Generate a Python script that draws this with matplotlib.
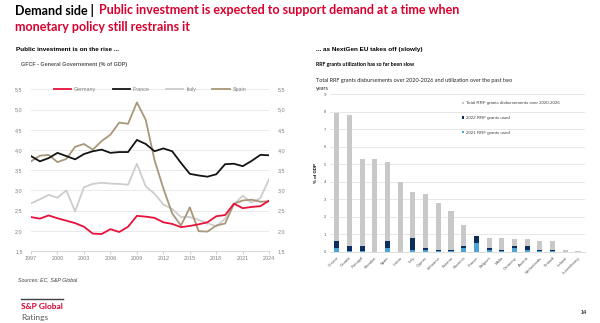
import numpy as np
import matplotlib.pyplot as plt
from matplotlib.ticker import FuncFormatter

# left chart: GFCF general government, % of GDP
years = np.arange(1997, 2025)
germany = [2.34, 2.30, 2.38, 2.31, 2.25, 2.19, 2.10, 1.93, 1.92, 2.04, 1.97, 2.10,
           2.37, 2.35, 2.32, 2.21, 2.17, 2.09, 2.12, 2.16, 2.21, 2.36, 2.39, 2.67,
           2.56, 2.59, 2.61, 2.75]
france = [3.85, 3.72, 3.80, 3.93, 3.85, 3.77, 3.90, 3.97, 4.01, 3.93, 3.95, 3.95,
          4.25, 4.15, 3.97, 4.04, 3.97, 3.68, 3.41, 3.37, 3.34, 3.40, 3.65, 3.66,
          3.60, 3.73, 3.88, 3.87]
italy = [2.68, 2.78, 2.89, 2.82, 3.00, 2.48, 3.08, 3.16, 3.19, 3.17, 3.16, 3.14,
         3.66, 3.10, 2.92, 2.65, 2.54, 2.34, 2.34, 2.27, 2.19, 2.11, 2.30, 2.65,
         2.87, 2.70, 2.81, 3.29]
spain = [3.72, 3.86, 3.88, 3.70, 3.78, 4.08, 4.15, 4.01, 4.22, 4.38, 4.68, 4.65,
         5.18, 4.75, 3.75, 3.05, 2.43, 2.13, 2.58, 1.99, 1.98, 2.13, 2.18, 2.67,
         2.75, 2.77, 2.72, 2.73]

# right chart: RRF grants, % of GDP
countries = ["Greece", "Croatia", "Portugal", "Slovakia", "Spain", "Latvia", "Italy",
             "Cyprus", "Lithuania", "Estonia", "Slovenia", "France", "Belgium", "Malta",
             "Germany", "Austria", "Netherlands", "Finland", "Ireland", "Luxembourg"]
total_rrf = [7.9, 7.8, 5.3, 5.3, 5.1, 4.0, 3.4, 3.3, 2.8, 2.3, 1.5, 0.9, 0.8, 0.8,
             0.7, 0.7, 0.6, 0.6, 0.1, 0.02]
used_2021 = [0.2, 0.02, 0.03, 0.0, 0.2, 0.0, 0.1, 0.1, 0.02, 0.02, 0.2, 0.5, 0.1, 0.02,
             0.2, 0.1, 0.02, 0.02, 0.0, 0.0]
used_2022 = [0.4, 0.28, 0.27, 0.0, 0.4, 0.0, 0.7, 0.1, 0.08, 0.08, 0.1, 0.4, 0.1, 0.08,
             0.1, 0.2, 0.08, 0.08, 0.0, 0.0]

RED = "#D7002E"
GREY_TXT = "#7F7F7F"
TITLE_FONT = ["Lato", "DejaVu Sans"]
plt.rcParams["font.family"] = ["Liberation Sans", "DejaVu Sans"]

fig = plt.figure(figsize=(6, 3.23), dpi=100)

# headline
fig.text(0.025, 0.968, "Demand side | ", fontsize=9.0, fontweight="bold",
         family=TITLE_FONT, va="center", ha="left")
fig.text(0.025 + 0.14, 0.968, "Public investment is expected to support demand at a time when",
         fontsize=9.0, fontweight="bold", color=RED, family=TITLE_FONT, va="center", ha="left")
fig.text(0.025, 0.915, "monetary policy still restrains it", fontsize=9.0, fontweight="bold",
         color=RED, family=TITLE_FONT, va="center", ha="left")

fig.text(0.027, 0.848, "Public investment is on the rise ...", fontsize=4.6, fontweight="bold",
         va="center")
fig.text(0.527, 0.848, "... as NextGen EU takes off (slowly)", fontsize=4.6, fontweight="bold",
         va="center")
fig.text(0.035, 0.800, "GFCF - General Governement (% of GDP)", fontsize=3.9,
         fontweight="bold", color="#595959", va="center")
fig.text(0.03, 0.133, "Sources: EC, S&P Global", fontsize=3.8, style="italic",
         color="#404040", va="center")

# ---- left line chart
ax = fig.add_axes([0.0517, 0.223, 0.397, 0.5])
ax.plot(years, germany, color="#E8113A", lw=1.3, label="Germany", zorder=4)
ax.plot(years, france, color="#141414", lw=1.3, label="France", zorder=3)
ax.plot(years, italy, color="#CDCDCD", lw=1.3, label="Italy", zorder=2)
ax.plot(years, spain, color="#A8977A", lw=1.3, label="Spain", zorder=2)
ax.set_xlim(1997, 2024)
ax.set_ylim(1.5, 5.5)
ax.set_yticks(np.arange(1.5, 5.6, 0.5))
ax.set_xticks(np.arange(1997, 2025, 3))
ax.yaxis.set_major_formatter(FuncFormatter(lambda v, p: f"{v:.1f}".replace(".", ",")))
ax.grid(axis="y", color="#E6E6E6", lw=0.6)
ax.set_axisbelow(True)
for s in ["top", "left", "right"]:
    ax.spines[s].set_visible(False)
ax.spines["bottom"].set_color("#D0D0D0")
ax.spines["bottom"].set_linewidth(0.6)
ax.tick_params(axis="x", labelsize=3.9, colors=GREY_TXT, length=2, width=0.5,
               color="#C0C0C0", pad=1.5)
ax.tick_params(axis="y", labelsize=3.9, colors=GREY_TXT, length=0, pad=6,
               labelright=True, labelleft=True)
leg = ax.legend(loc="center", bbox_to_anchor=(0.5, 1.0), ncol=4, frameon=False,
                fontsize=3.9, handlelength=3.2, columnspacing=3.0, handletextpad=0.5)
for t in leg.get_texts():
    t.set_color(GREY_TXT)

# ---- right bar chart
fig.text(0.527, 0.800, "RRF grants utilization has so far been slow", fontsize=3.8,
         fontweight="bold", family=TITLE_FONT, va="center")
fig.text(0.527, 0.752, "Total RRF grants disbursements over 2020-2026 and utilization over the past two",
         fontsize=4.0, family=TITLE_FONT, color="#262626", va="center")
fig.text(0.527, 0.727, "years", fontsize=4.0, family=TITLE_FONT, color="#262626", va="center")

bx = fig.add_axes([0.55, 0.2207, 0.425, 0.4876])
x = np.arange(len(countries))
w = 0.4
bx.bar(x, total_rrf, w, color="#C8C8C8", label="Total RRF grants disbursements over 2020-2026",
       zorder=2)
bx.bar(x, used_2022, w, bottom=used_2021, color="#0B2E5E", label="2022 RRF grants used",
       zorder=3)
bx.bar(x, used_2021, w, color="#4FA3D1", label="2021 RRF grants used", zorder=3)
bx.set_xlim(-0.53, 19.55)
bx.set_ylim(0, 9)
bx.set_yticks(range(0, 10))
bx.set_xticks(x)
bx.set_xticklabels(countries, rotation=45, ha="right", rotation_mode="anchor")
bx.grid(axis="y", color="#E3E3E3", lw=0.6)
bx.set_axisbelow(True)
for s in ["top", "left", "right"]:
    bx.spines[s].set_visible(False)
bx.spines["bottom"].set_color("#D9D9D9")
bx.spines["bottom"].set_linewidth(0.6)
bx.tick_params(axis="both", labelsize=3.0, colors="#595959", length=0, pad=3)
bx.set_ylabel("% of GDP", fontsize=3.2, fontweight="bold", labelpad=4)
handles, labels = bx.get_legend_handles_labels()
lg = bx.legend(handles, labels, loc="upper left", bbox_to_anchor=(0.5, 0.98), frameon=False,
               fontsize=3.2, handlelength=0.5, handleheight=0.5, labelspacing=2.4,
               handletextpad=0.5)
for t in lg.get_texts():
    t.set_color("#404040")

# footer
fig.add_artist(plt.Line2D([0.035, 0.105], [0.074, 0.074], color="#404040", lw=1.0))
fig.text(0.035, 0.052, "S&P Global", fontsize=6.0, fontweight="bold", color=RED,
         family=TITLE_FONT, va="center")
fig.text(0.035, 0.018, "Ratings", fontsize=6.0, color="#595959", family=TITLE_FONT,
         va="center")
fig.text(0.978, 0.031, "14", fontsize=4.0, fontweight="bold", color="#404040",
         va="center", ha="right")

fig.savefig("out.png", dpi=100)
